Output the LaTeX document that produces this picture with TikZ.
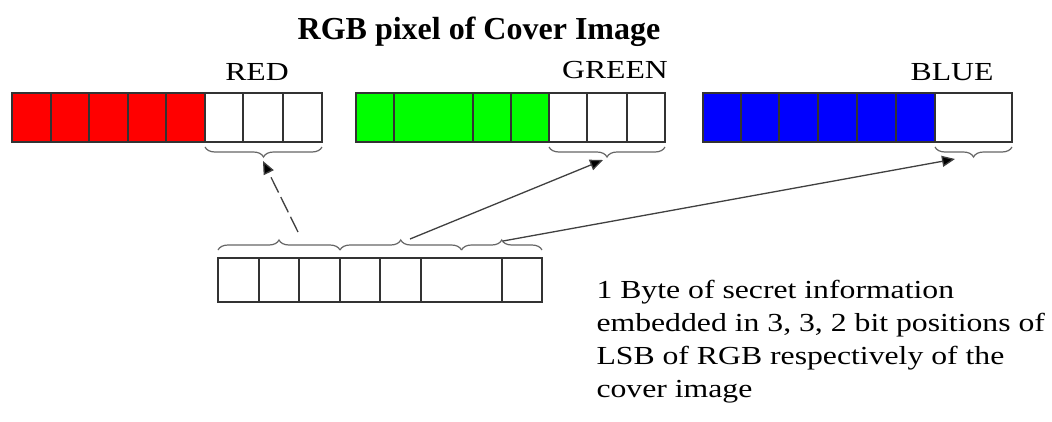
\documentclass[tikz,border=0pt]{standalone}
\usepackage{fontspec}
\setmainfont{Liberation Serif}
\newfontfamily\widefont[FakeStretch=1.22]{Liberation Serif}
\usepackage{tikz}
\usetikzlibrary{arrows.meta,calc,decorations.pathreplacing}
\begin{document}
\begin{tikzpicture}[x=1pt,y=-1pt,
  bitcell/.style={draw=black!80,line width=1.8pt,inner sep=0pt,outer sep=0pt,anchor=south west},
  bitbrace/.style={draw=black!60,line width=1.2pt,decorate,decoration={brace,amplitude=10pt}},
  link/.style={draw=black!75,line width=1.3pt,-{Triangle[length=13pt,width=11pt,fill=black]}},
  lbl/.style={anchor=base,font=\widefont\fontsize{26}{30}\selectfont}]
\useasboundingbox[fill=white] (0,0) rectangle (1052,421);
\foreach \xa/\xb/\c [count=\i] in {12/51/red,51/89/red,89/128/red,128/166/red,166/205/red,205/243/white,243/283/white,283/322/white}
  \node[bitcell,fill=\c,minimum width={(\xb-\xa)*1pt},minimum height=49pt] (r\i) at (\xa,142) {};
\foreach \xa/\xb/\c [count=\i] in {356/394/green,394/473/green,473/511/green,511/549/green,549/587/white,587/627/white,627/665/white}
  \node[bitcell,fill=\c,minimum width={(\xb-\xa)*1pt},minimum height=49pt] (g\i) at (\xa,142) {};
\foreach \xa/\xb/\c [count=\i] in {703/741/blue,741/779/blue,779/818/blue,818/857/blue,857/896/blue,896/935/blue,935/1012/white}
  \node[bitcell,fill=\c,minimum width={(\xb-\xa)*1pt},minimum height=49pt] (b\i) at (\xa,142) {};
\foreach \xa/\xb [count=\i] in {218/259,259/299,299/340,340/380,380/421,421/502,502/542}
  \node[bitcell,fill=white,minimum width={(\xb-\xa)*1pt},minimum height=44pt] (s\i) at (\xa,302) {};
\node[anchor=base,font=\bfseries\fontsize{32}{38}\selectfont] (title) at (479,39) {RGB pixel of Cover Image};
\node[lbl] (redlbl) at (257,80) {RED};
\node[lbl] (greenlbl) at (615,78) {GREEN};
\node[lbl] (bluelbl) at (952,80) {BLUE};
\draw[bitbrace,decoration={mirror}] ([yshift=-5pt]r6.south west) -- ([yshift=-5pt]r8.south east);
\draw[bitbrace,decoration={mirror}] ([yshift=-5pt]g5.south west) -- ([yshift=-5pt]g7.south east);
\draw[bitbrace,decoration={mirror}] ([yshift=-5pt]b7.south west) -- ([yshift=-5pt]b7.south east);
\draw[bitbrace] ([yshift=8pt]s1.north west) -- ([yshift=8pt]s3.north east);
\draw[bitbrace] ([yshift=8pt]s4.north west) -- ([yshift=8pt]s6.north);
\draw[bitbrace] ([yshift=8pt]s6.north) -- ([yshift=8pt]s7.north east);
\coordinate (redin) at (263,161);
\coordinate (greenin) at (603,160);
\coordinate (bluein) at (955,159);
\coordinate (redout) at (298,232);
\coordinate (greenout) at (410,239);
\coordinate (blueout) at (503,241);
\draw[link,dash pattern=on 17pt off 5pt] (redout) -- (redin);
\draw[link] (greenout) -- (greenin);
\draw[link] (blueout) -- (bluein);
\node[anchor=base west,align=left,font=\widefont\fontsize{26}{33}\selectfont] (note) at (593,397)
  {1 Byte of secret information\\embedded in 3, 3, 2 bit positions of\\LSB of RGB respectively of the\\cover image};
\end{tikzpicture}
\end{document}
